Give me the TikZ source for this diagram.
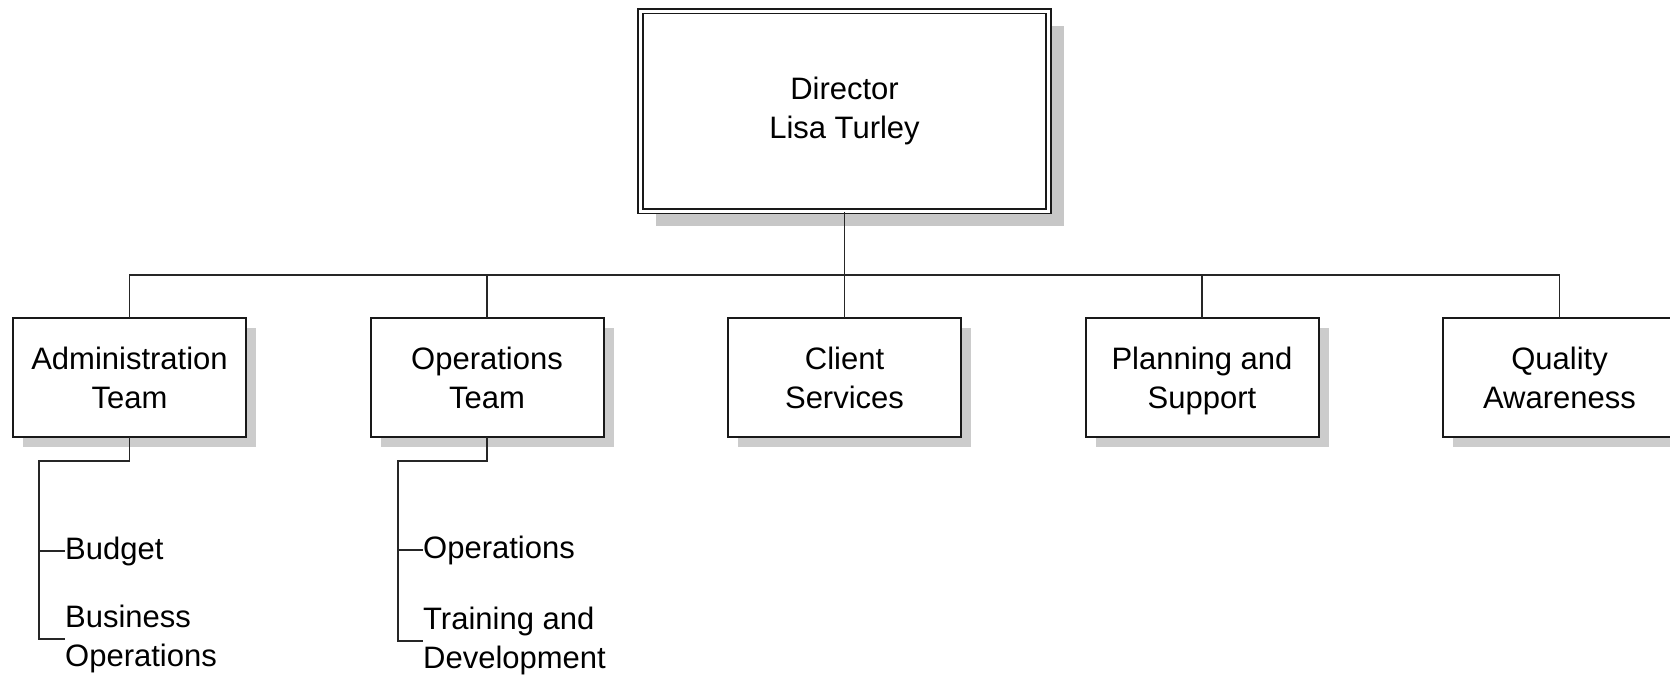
\documentclass[tikz,border=0pt]{standalone}
\usepackage{fontspec}
\setmainfont{Liberation Sans}
\usetikzlibrary{positioning,shadows}
\tikzset{
  font=\fontsize{31}{39}\selectfont,
  dirbox/.style ={draw=black!90, double, double distance=3.5pt, line width=1.4pt, minimum width=408pt, minimum height=200pt, align=center, fill=white,
                  drop shadow={shadow xshift=15pt, shadow yshift=-15pt, fill=black!22, opacity=1}},
  team/.style   ={draw=black!90, line width=2pt, minimum width=233pt, minimum height=119pt, align=center, fill=white, outer sep=0pt,
                  execute at begin node=\rule{0pt}{23pt}, execute at end node=\rule[-0.5pt]{0pt}{0.5pt}, text depth=0pt,
                  drop shadow={shadow xshift=10pt, shadow yshift=-10pt, fill=black!20, opacity=1}},
  item/.style   ={anchor=west, inner sep=0pt, align=left},
  conn/.style   ={draw=black!85, line width=1.4pt},
}

\begin{document}
\begin{tikzpicture}[x=1pt, y=-1pt, node distance=124.5pt]
  \useasboundingbox (0,0) rectangle (1670,679);

  \node[team] (adm) at (129.5,377.5) {Administration\\Team};
  \node[team, right=of adm] (ops) {Operations\\Team};
  \node[team, right=of ops] (cs)  {Client\\Services};
  \node[team, right=of cs]  (pls) {Planning and\\Support};
  \node[team, right=of pls] (qa)  {Quality\\Awareness};
  \node[dirbox, above=106pt of cs] (dir) {Director\\Lisa Turley};

  % sub units
  \node[item] (bdg) at (65,551) {Budget};
  \node[item] (bop) at (65,639) {Business\\Operations};
  \node[item] (opr) at (423,550) {Operations};
  \node[item] (trd) at (423,641) {Training and\\Development};

  \coordinate (bus) at (0,275);
  \draw[conn] (dir.south) -- (cs.north);
  \draw[conn] (adm.north) |- (bus -| cs.north) -| (qa.north);
  \foreach \n in {ops,pls}
    \draw[conn] (\n.north) -- (\n.north |- bus);

  \draw[conn] (adm.south) -- ++(0,24) -| ([xshift=-26pt]bop.west) -- (bop.west);
  \draw[conn] (bdg.west) -- ++(-26,0);
  \draw[conn] (ops.south) -- ++(0,24) -| ([xshift=-25pt]trd.west) -- (trd.west);
  \draw[conn] (opr.west) -- ++(-25,0);
\end{tikzpicture}
\end{document}
